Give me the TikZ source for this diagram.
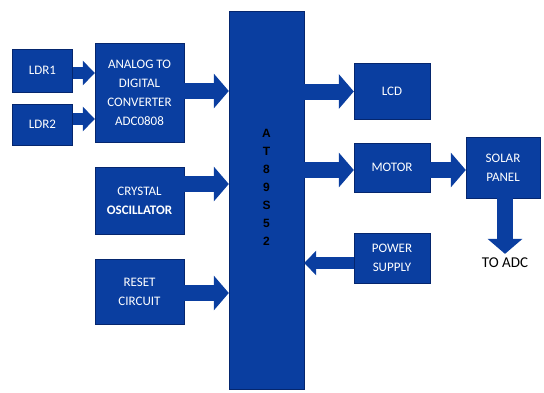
\documentclass[tikz,border=0pt]{standalone}
\usepackage{fontspec}
\setmainfont{Carlito}
\newfontfamily\chipfont{Liberation Sans}
\usetikzlibrary{positioning,arrows.meta}
\definecolor{boxblue}{RGB}{10,62,160}
\definecolor{boxedge}{RGB}{5,38,110}
\tikzset{block/.style={draw=boxedge, fill=boxblue, text=white, align=center, inner sep=0pt, font=\fontsize{13}{19}\selectfont},
         line/.style={boxblue, line width=12pt, -{Triangle[width=24pt,length=12pt]}},
         bigline/.style={boxblue, line width=16pt, -{Triangle[width=34pt,length=15pt]}}}

\begin{document}
\begin{tikzpicture}[x=1pt,y=-1pt]
    \useasboundingbox (0,0) rectangle (544,392);
    \node[block,minimum width=60pt,minimum height=43pt] (ldr1)  at (42.5,70.5)  {LDR1};
    \node[block,minimum width=60pt,minimum height=41pt] (ldr2)  at (42.5,124.5) {LDR2};
    \node[block,minimum width=89pt,minimum height=99pt] (adc)   at (139.5,92.5) {ANALOG TO\\DIGITAL\\CONVERTER\\ADC0808};
    \node[block,minimum width=89pt,minimum height=67pt] (xtal)  at (139.5,200.5) {CRYSTAL\\\textbf{OSCILLATOR}};
    \node[block,minimum width=89pt,minimum height=65pt] (reset) at (139.5,291.5) {RESET\\CIRCUIT};
    \node[block,minimum width=75pt,minimum height=378pt] (mcu) at (266.5,200) {};
    \node[text=black,align=center,font=\chipfont\bfseries\fontsize{12}{18}\selectfont,yshift=13pt] (chip) at (mcu.center) {A\\T\\8\\9\\S\\5\\2};
    \node[block,minimum width=76pt,minimum height=56pt] (lcd)   at (392,91)    {LCD};
    \node[block,minimum width=76pt,minimum height=49pt] (motor) at (392,167.5) {MOTOR};
    \node[block,minimum width=74pt,minimum height=61pt] (solar) at (503,167.5) {SOLAR\\PANEL};
    \node[block,minimum width=76pt,minimum height=50pt] (power) at (392,258)   {POWER\\SUPPLY};
    \node[font=\fontsize{15}{17}\selectfont,inner sep=4pt] (toadc) at (505,263) {TO ADC};

    \draw[line]    (ldr1.east |- 0,73)   -- (adc.west |- 0,73);
    \draw[line]    (ldr2.east |- 0,119)  -- (adc.west |- 0,119);
    \draw[bigline] (adc.east |- 0,91)    -- (mcu.west |- 0,91);
    \draw[bigline] (xtal.east |- 0,184)  -- (mcu.west |- 0,184);
    \draw[bigline] (reset.east |- 0,293) -- (mcu.west |- 0,293);
    \draw[bigline] (mcu.east |- 0,91.5)  -- (lcd.west |- 0,91.5);
    \draw[bigline] (mcu.east |- 0,170)   -- (motor.west |- 0,170);
    \draw[bigline] (motor.east |- 0,170) -- (solar.west |- 0,170);
    \draw[line]    (power.west |- 0,263) -- (mcu.east |- 0,263);
    \draw[bigline] (solar.south -| toadc) -- (toadc.north);
\end{tikzpicture}
\end{document}
